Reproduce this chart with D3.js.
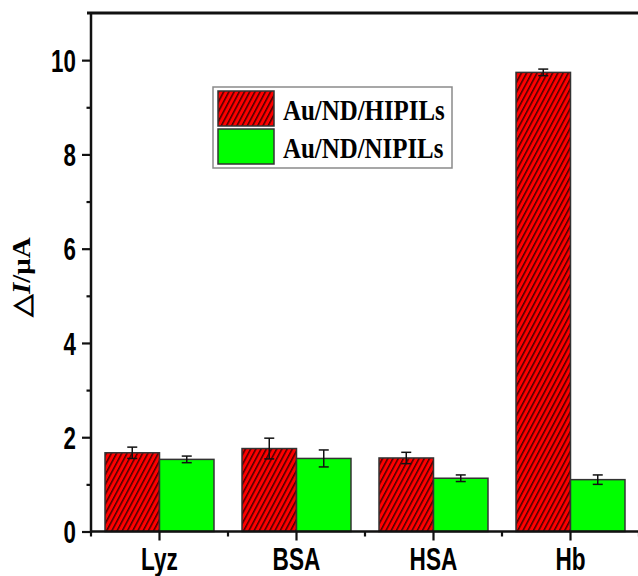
<!DOCTYPE html>
<html>
<head>
<meta charset="utf-8">
<script src="https://cdn.jsdelivr.net/npm/d3@7"></script>
<style>
  html, body { margin: 0; padding: 0; background: #fff; }
  svg { display: block; }
</style>
</head>
<body>
<svg id="chart" width="638" height="576"></svg>
<script>
// Current response of each electrode towards the interfering proteins
const categories = ["Lyz", "BSA", "HSA", "Hb"];
const seriesNames = ["Au/ND/HIPILs", "Au/ND/NIPILs"];
const hipils = [1.67, 1.76, 1.56, 9.74];
const hipilsErr = [0.12, 0.22, 0.12, 0.07];
const nipils = [1.53, 1.55, 1.13, 1.10];
const nipilsErr = [0.07, 0.18, 0.07, 0.10];
const majorTicks = [0, 2, 4, 6, 8, 10];
const minorTicks = [1, 3, 5, 7, 9];

const svg = d3.select("#chart");
const W = 638, H = 576;
const plotLeft = 91, plotRight = 639, plotTop = 13, plotBottom = 531.5;

const x = d3.scaleBand().domain(categories).range([plotLeft, plotRight]).padding(0);
const xs = d3.scaleBand().domain(seriesNames).range([0, x.bandwidth()])
  .paddingInner(0).paddingOuter(0.257);
const y = d3.scaleLinear().domain([0, 11]).range([plotBottom, plotTop]);

// Diagonal hatch for the HIPILs bars
const defs = svg.append("defs");
const pat = defs.append("pattern")
  .attr("id", "hatch").attr("patternUnits", "userSpaceOnUse")
  .attr("width", 4.6).attr("height", 10)
  .attr("patternTransform", "rotate(28)");
pat.append("rect").attr("width", 4.6).attr("height", 10).attr("fill", "#ff0000");
pat.append("line").attr("x1", 0.8).attr("x2", 0.8).attr("y1", 0).attr("y2", 10)
  .attr("stroke", "#2a0000").attr("stroke-width", 1.3);

const rows = categories.map((c, i) => ({
  cat: c,
  bars: [
    { s: seriesNames[0], v: hipils[i], e: hipilsErr[i], fill: "url(#hatch)" },
    { s: seriesNames[1], v: nipils[i], e: nipilsErr[i], fill: "#00ff00" }
  ]
}));

const groups = svg.append("g").selectAll("g").data(rows).join("g")
  .attr("transform", d => `translate(${x(d.cat)},0)`);

groups.selectAll("rect").data(d => d.bars).join("rect")
  .attr("x", d => xs(d.s))
  .attr("y", d => y(d.v))
  .attr("width", xs.bandwidth())
  .attr("height", d => y(0) - y(d.v))
  .attr("fill", d => d.fill)
  .attr("stroke", "#333")
  .attr("stroke-width", 1.5);

// Error bars
const eb = groups.selectAll("g.err").data(d => d.bars).join("g").attr("class", "err")
  .attr("stroke", "#111").attr("stroke-width", 1.5);
const cx = d => xs(d.s) + xs.bandwidth() / 2;
eb.append("line").attr("x1", cx).attr("x2", cx)
  .attr("y1", d => y(d.v + d.e)).attr("y2", d => y(d.v - d.e));
eb.append("line").attr("x1", d => cx(d) - 5).attr("x2", d => cx(d) + 5)
  .attr("y1", d => y(d.v + d.e)).attr("y2", d => y(d.v + d.e));
eb.append("line").attr("x1", d => cx(d) - 5).attr("x2", d => cx(d) + 5)
  .attr("y1", d => y(d.v - d.e)).attr("y2", d => y(d.v - d.e));

// Y axis
const yAxis = svg.append("g").attr("transform", `translate(${plotLeft},0)`)
  .call(d3.axisLeft(y).tickValues(majorTicks).tickSize(9).tickPadding(12).tickFormat(d3.format("d")));
yAxis.select(".domain").remove();
yAxis.selectAll(".tick line").attr("stroke", "#111").attr("stroke-width", 2.2);
yAxis.selectAll(".tick text")
  .attr("transform", "scale(0.72,1)")
  .attr("dy", "0.36em")
  .attr("font-family", "'Liberation Sans', Arial, sans-serif")
  .attr("font-weight", "bold").attr("font-size", 31).attr("fill", "#000");
const yMinor = svg.append("g").attr("transform", `translate(${plotLeft},0)`)
  .call(d3.axisLeft(y).tickValues(minorTicks).tickSize(4.5).tickFormat(""));
yMinor.select(".domain").remove();
yMinor.selectAll(".tick line").attr("stroke", "#111").attr("stroke-width", 2.2);

// X axis
const xAxis = svg.append("g").attr("transform", `translate(0,${plotBottom})`)
  .call(d3.axisBottom(x).tickSize(9));
xAxis.select(".domain").remove();
xAxis.selectAll(".tick line").attr("stroke", "#111").attr("stroke-width", 2.2);
xAxis.selectAll(".tick text")
  .attr("y", 38.5).attr("dy", 0)
  .attr("transform", "scale(0.73,1)")
  .attr("font-family", "'Liberation Sans', Arial, sans-serif")
  .attr("font-weight", "bold").attr("font-size", 31).attr("fill", "#000");
const bounds = [0, 1, 2, 3, 4].map(i => plotLeft + i * x.step());
svg.append("g").selectAll("line").data(bounds).join("line")
  .attr("x1", d => d).attr("x2", d => d)
  .attr("y1", plotBottom).attr("y2", plotBottom + 5)
  .attr("stroke", "#111").attr("stroke-width", 2.2);

// Frame lines
svg.append("line").attr("x1", plotLeft).attr("x2", W).attr("y1", plotBottom).attr("y2", plotBottom)
  .attr("stroke", "#111").attr("stroke-width", 2.5);
svg.append("line").attr("x1", plotLeft).attr("x2", plotLeft).attr("y1", plotTop - 1).attr("y2", plotBottom + 1)
  .attr("stroke", "#111").attr("stroke-width", 2.5);
svg.append("line").attr("x1", plotLeft - 4).attr("x2", W).attr("y1", plotTop).attr("y2", plotTop)
  .attr("stroke", "#111").attr("stroke-width", 2.8);

// Y axis title
const yt = svg.append("text")
  .attr("transform", "translate(30,277) rotate(-90) scale(1,0.85)")
  .attr("text-anchor", "middle")
  .attr("font-family", "'Liberation Serif', 'Times New Roman', serif")
  .attr("font-weight", "bold").attr("font-size", 29).attr("fill", "#000");
yt.append("tspan").text("△");
yt.append("tspan").attr("font-style", "italic").text("I");
yt.append("tspan").text("/μA");

// Legend
const lg = svg.append("g");
lg.append("rect").attr("x", 213).attr("y", 87).attr("width", 239).attr("height", 81)
  .attr("fill", "#fff").attr("stroke", "#8a8a8a").attr("stroke-width", 1.5);
const legendFills = ["url(#hatch)", "#00ff00"];
const legendRows = lg.selectAll("g.row").data(seriesNames).join("g").attr("class", "row")
  .attr("transform", (d, i) => `translate(218,${91 + i * 38})`);
legendRows.append("rect").attr("width", 56).attr("height", 35)
  .attr("fill", (d, i) => legendFills[i]).attr("stroke", "#333").attr("stroke-width", 1.5);
legendRows.append("text")
  .attr("transform", "translate(65,29) scale(0.83,1)")
  .attr("font-family", "'Liberation Serif', 'Times New Roman', serif")
  .attr("font-weight", "bold").attr("font-size", 30).attr("fill", "#000")
  .text(d => d);
</script>
</body>
</html>
